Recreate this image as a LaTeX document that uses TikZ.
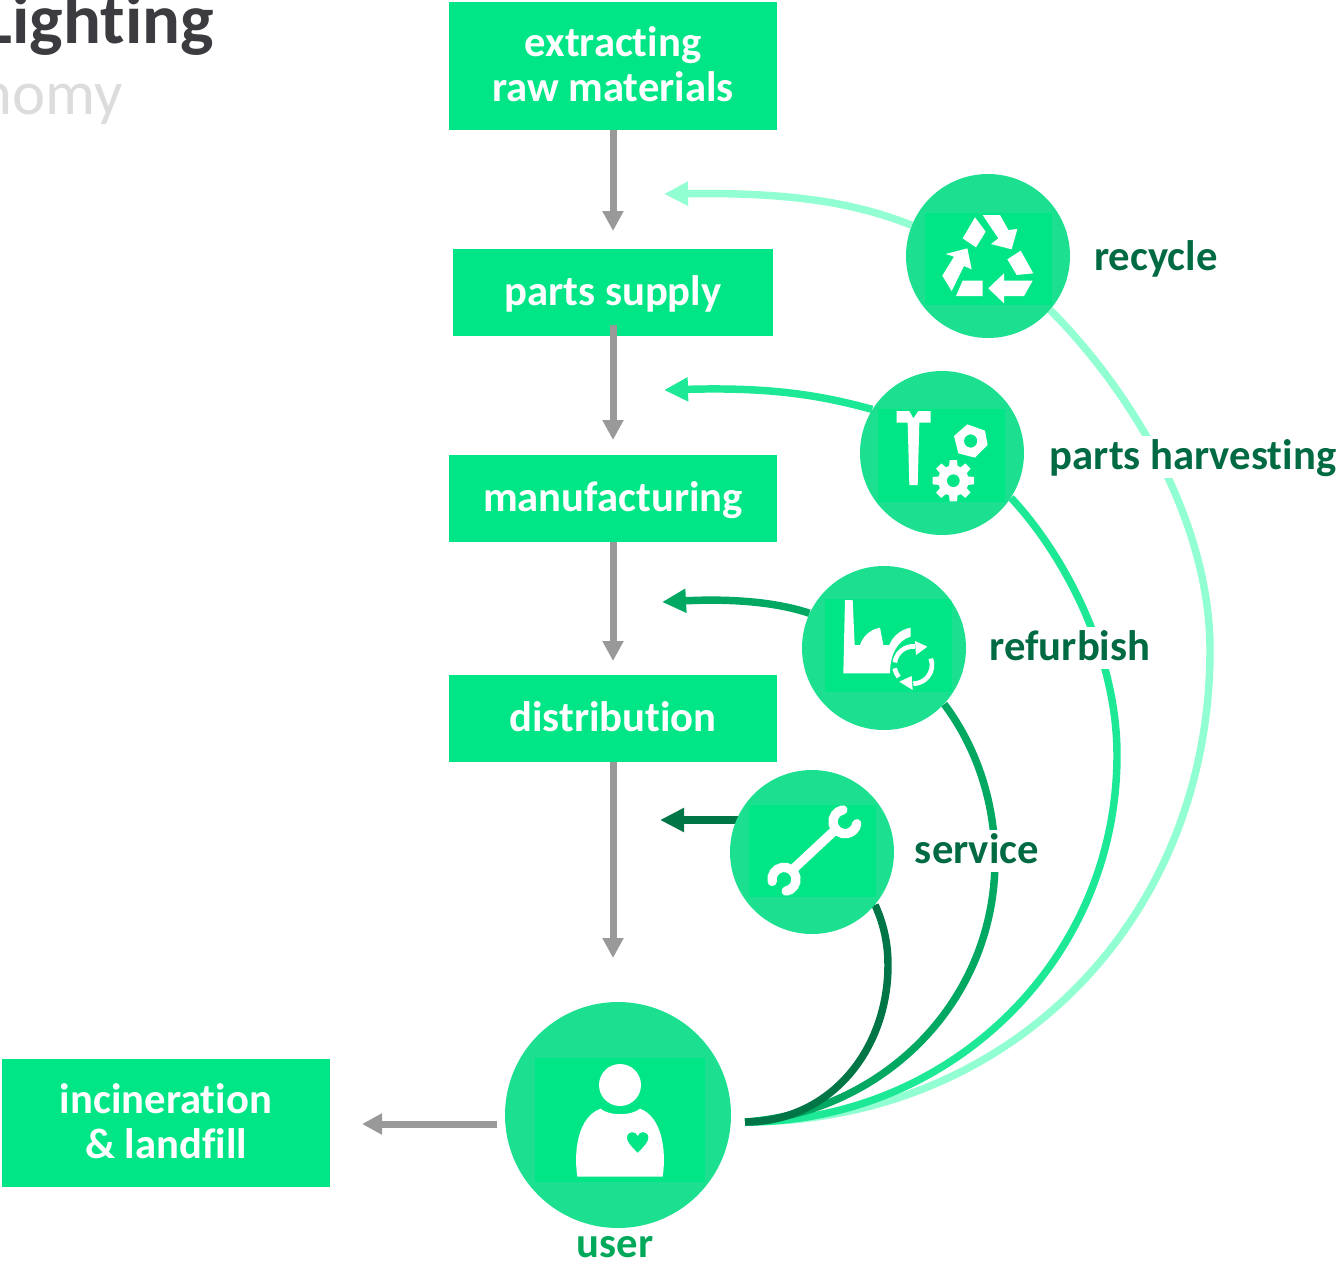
\documentclass[tikz,border=0pt]{standalone}
\usepackage{fontspec}
\setmainfont[RawFeature={-liga;-clig;-dlig}]{Carlito}
\usetikzlibrary{arrows.meta}
\pgfdeclarelayer{back}
\pgfsetlayers{back,main}
\definecolor{boxg}{HTML}{00E686}
\definecolor{circg}{HTML}{1CE090}
\definecolor{inng}{HTML}{00E686}
\definecolor{cA}{HTML}{92FFD3}
\definecolor{cB}{HTML}{1CE896}
\definecolor{cC}{HTML}{00A862}
\definecolor{cD}{HTML}{007545}
\definecolor{greyl}{HTML}{999999}
\definecolor{lab}{HTML}{006B42}
\definecolor{ulab}{HTML}{00A85A}
\definecolor{titlec}{HTML}{3B3B40}
\definecolor{subc}{HTML}{DCDCDC}
\tikzset{
  boxn/.style={fill=boxg,text=white,font=\fontsize{32}{33.75}\selectfont\bfseries,align=center,inner sep=0pt,minimum width=246pt,minimum height=65.25pt},
  oneline/.style={text height=24pt,text depth=4.5pt},
  circn/.style={circle,fill=circg,inner sep=0pt,minimum size=123pt},
  labn/.style={anchor=base,fill=white,text=lab,font=\fontsize{32}{33.75}\selectfont\bfseries,inner sep=1pt,text height=24pt,text depth=6pt},
  garrow/.style={draw=greyl,line width=5.25pt,-{Triangle[length=15pt,width=15pt]}},
  carrow/.style={line width=5.6pt,-{Triangle[length=18pt,width=17pt]}},
  curve/.style={line width=5.6pt},
  ico/.style={fill=white,draw=none},
  icon/.style={shift={#1},x=.25pt,y=-.25pt}
}
\newcommand{\innersq}[6]{\begin{scope}\clip (#1) circle[radius=#2];\fill[inng] (#3,#4) rectangle (#5,#6);\end{scope}}
\begin{document}
\begin{tikzpicture}[x=.75pt,y=-.75pt]
\useasboundingbox (0,0) rectangle (1339,1261);
% title
\begin{scope}
\clip (0,0) rectangle (1339,1261);
\node[anchor=base east,inner sep=0pt,font=\fontsize{53}{57}\selectfont\bfseries,text=titlec] (ttl) at (214,43) {Lighting};
\node[anchor=base east,inner sep=0pt,font=\fontsize{47}{50}\selectfont,text=subc] (sub) at (123,114) {economy};
\end{scope}
% boxes
\node[boxn,minimum height=96pt] (ext) at (613,66) {\raisebox{3.5pt}{extracting}\\\raisebox{3.5pt}{raw materials}};
\node[boxn,oneline,minimum width=240pt] (sup) at (613,292.5) {parts supply};
\node[boxn,oneline] (man) at (613,498.5) {manufacturing};
\node[boxn,oneline] (dis) at (613,718.5) {distribution};
\node[boxn,minimum height=96pt] (inc) at (166,1123) {\raisebox{3.5pt}{incineration}\\\raisebox{3.5pt}{\& landfill}};
% circles
\node[circn] (rec) at (988,256) {};
\node[circn] (har) at (942,453) {};
\node[circn] (ref) at (884,648) {};
\node[circn] (ser) at (812,852) {};
\node[circn,minimum size=169.5pt] (usr) at (618,1115) {};
\innersq{rec}{82}{925}{213}{1052}{305}
\innersq{har}{82}{878}{409}{1005}{502}
\innersq{ref}{82}{825}{599}{952}{692}
\innersq{ser}{82}{749}{805}{876}{897}
\innersq{usr}{113}{535}{1058}{705}{1182}
% labels
\node[labn] (lrec) at (1156,270) {recycle};
\node[labn] (lhar) at (1193,469) {parts harvesting};
\node[labn] (lref) at (1070,660) {refurbish};
\node[labn] (lser) at (977,863) {service};
\node[labn,fill=none,text=ulab,text height=0pt,text depth=0pt] (lusr) at (615,1257) {user};
% grey arrows
\coordinate (a1) at (613,231);
\coordinate (a2s) at (613,325);
\coordinate (a2) at (613,440);
\coordinate (a3) at (613,661);
\coordinate (a4) at (613,958);
\coordinate (a5s) at (497,1124);
\coordinate (a5) at (362,1124);
\draw[garrow] (ext.south) -- (a1);
\draw[garrow] (a2s) -- (a2);
\draw[garrow] (man.south) -- (a3);
\draw[garrow] (dis.south) -- (a4);
\draw[garrow] (a5s) -- (a5);
% curves
\coordinate (uo) at (745,1122);
\coordinate (tA) at (664,194);
\coordinate (tB) at (664,390);
\coordinate (tC) at (662,602);
\coordinate (tD) at (660,820);
\coordinate (sD) at (745,820);
\begin{pgfonlayer}{back}
\draw[curve,cA] (uo) .. controls (1010,1122) and (1210,920) .. (1210,650) .. controls (1210,520) and (1130,390) .. (rec.-41);
\draw[curve,cB] (uo) .. controls (950,1122) and (1117,960) .. (1117,755) .. controls (1117,650) and (1060,550) .. (har.-33);
\draw[curve,cC] (uo) .. controls (885,1112) and (995,1000) .. (995,860) .. controls (995,800) and (975,745) .. (ref.-43);
\draw[curve,cD] (uo) .. controls (830,1122) and (888,1050) .. (888,965) .. controls (888,940) and (882,920) .. (ser.-40);
\draw[carrow,cA] (rec.158) .. controls (860,205) and (800,192) .. (tA);
\draw[carrow,cB] (har.148) .. controls (820,395) and (770,387) .. (tB);
\draw[carrow,cC] (ref.155) .. controls (770,600) and (720,599) .. (tC);
\draw[carrow,cD] (sD) -- (tD);
\end{pgfonlayer}
% recycle icon
\begin{scope}[icon={(880,160)}]
\fill[ico] (285,172)--(317,215)--(288,262)--(248,235)--cycle;
\fill[ico] (308,165)--(360,165)--(385,210)--(412,207)--(395,268)--(333,252)--(355,235)--cycle;
\fill[ico] (422,272)--(460,340)--(410,345)--(382,298)--cycle;
\fill[ico] (458,362)--(432,408)--(372,408)--(372,430)--(325,385)--(372,340)--(372,362)--cycle;
\fill[ico] (248,362)--(308,362)--(308,408)--(228,408)--cycle;
\fill[ico] (262,265)--(275,328)--(252,318)--(215,393)--(187,347)--(222,290)--(197,282)--cycle;
\end{scope}
% harvesting icon
\begin{scope}[icon={(780,360)}]
\fill[ico] (350,153)--(388,153)--(400,175)--(415,153)--(452,153)--(452,188)--(418,188)--(413,375)--(388,375)--(383,188)--(350,188)--cycle;
\fill[ico,even odd rule] (562,193)--(615,212)--(623,255)--(585,293)--(535,280)--(522,228)--cycle (572,243) circle[radius=20];
\foreach \a in {0,45,...,315}{
  \fill[ico,shift={(520,362)},rotate=\a] (-11,-62)--(11,-62)--(14,-30)--(-14,-30)--cycle;
}
\fill[ico] (520,362) circle[radius=46];
\fill[inng] (520,362) circle[radius=19];
\end{scope}
% refurbish icon
\begin{scope}[icon={(780,360)}]
\fill[ico] (195,720)--(218,720)--(224,855)--(240,855) .. controls (248,830) and (270,808) .. (300,803)--(310,855)--(328,855) .. controls (340,825) and (365,808) .. (392,803)--(392,830) .. controls (355,840) and (330,880) .. (330,940)--(190,940)--cycle;
\draw[white,line width=3.5pt] (400,915) ++(-172:56) arc[start angle=-172,end angle=-85,radius=56];
\draw[white,line width=3.5pt] (400,915) ++(-20:56) arc[start angle=-20,end angle=90,radius=56];
\fill[ico] (405,843)--(442,860)--(408,885)--cycle;
\fill[ico] (358,965)--(395,948)--(398,990)--cycle;
\draw[white,line width=3.5pt] (344,925) arc[start angle=170,end angle=140,radius=56];
\end{scope}
% wrench icon
\begin{scope}[icon={(490,760)}]
\draw[white,line width=7pt] (1032,213)--(912,325);
\draw[white,line width=7pt,line cap=round] (1065,185) ++(-100:36) arc[start angle=-100,end angle=-350,radius=36];
\draw[white,line width=7pt,line cap=round] (882,358) ++(170:36) arc[start angle=170,end angle=440,radius=36];
\end{scope}
% user icon
\begin{scope}[icon={(490,760)}]
\fill[ico] (390,975) circle[radius=63];
\fill[ico] (262,1250) .. controls (250,1170) and (265,1070) .. (332,1046) .. controls (355,1068) and (425,1068) .. (450,1046) .. controls (515,1070) and (530,1170) .. (518,1250) -- cycle;
\fill[inng] (443,1178) .. controls (425,1160) and (410,1145) .. (411,1132) .. controls (413,1112) and (438,1112) .. (443,1128) .. controls (448,1112) and (473,1112) .. (475,1132) .. controls (476,1145) and (461,1160) .. (443,1178) -- cycle;
\end{scope}
\end{tikzpicture}
\end{document}
